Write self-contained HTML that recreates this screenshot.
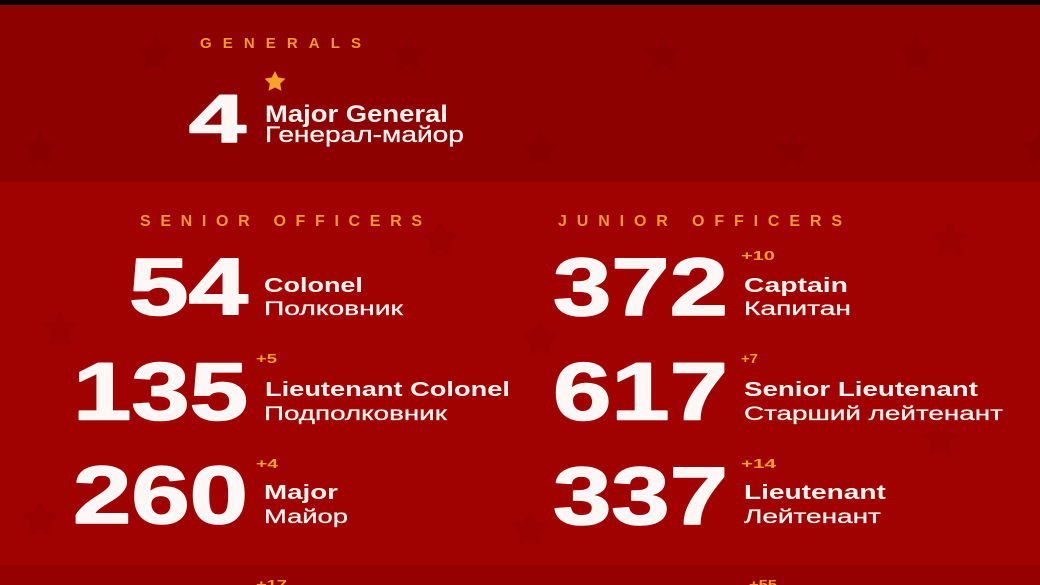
<!DOCTYPE html>
<html>
<head>
<meta charset="utf-8">
<style>
  html, body { margin: 0; padding: 0; background: #8e0101; }
  svg { display: block; }
  .num { font-family: "Liberation Sans", "DejaVu Sans", sans-serif; font-weight: 700; fill: #fdf8f5; stroke: #fdf8f5; stroke-width: 1.6; stroke-linejoin: round; }
  .lb { font-family: "Liberation Sans", "DejaVu Sans", sans-serif; font-weight: 700; fill: #fbf3ee; }
  .lr { font-family: "Liberation Sans", "DejaVu Sans", sans-serif; font-weight: 400; fill: #fbf3ee; stroke: #fbf3ee; stroke-width: 0.3; }
  .or { font-family: "Liberation Sans", "DejaVu Sans", sans-serif; font-weight: 700; fill: #f6a323; }
  .hd { font-family: "Liberation Sans", "DejaVu Sans", sans-serif; font-weight: 700; fill: #f09a2a; }
</style>
</head>
<body>
<svg id="cv" width="1040" height="585" viewBox="0 0 1040 585" xmlns="http://www.w3.org/2000/svg">
  <defs>
    <polygon id="st" points="0,-20 5.9,-8.1 19,-6.2 9.5,3.1 11.8,16.2 0,10 -11.8,16.2 -9.5,3.1 -19,-6.2 -5.9,-8.1"/>
  </defs>
  <!-- backgrounds -->
  <rect x="0" y="0" width="1040" height="585" fill="#a00202"/>
  <rect x="0" y="4" width="1040" height="178" fill="#8e0101"/>
  <rect x="0" y="0" width="1040" height="5" fill="#0a0000"/>
  <rect x="0" y="565" width="1040" height="20" fill="#950000"/>

  <!-- faint watermark stars -->
  <g fill="#000" opacity="0.035">
    <use href="#st" x="663" y="55"/>
    <use href="#st" x="917" y="55"/>
    <use href="#st" x="540" y="150"/>
    <use href="#st" x="793" y="150"/>
    <use href="#st" x="409" y="55"/>
    <use href="#st" x="155" y="55"/>
    <use href="#st" x="40" y="150"/>
    <use href="#st" x="1040" y="150"/>
    <use href="#st" x="60" y="330"/>
    <use href="#st" x="440" y="240"/>
    <use href="#st" x="950" y="240"/>
    <use href="#st" x="540" y="340"/>
    <use href="#st" x="40" y="520"/>
    <use href="#st" x="530" y="530"/>
    <use href="#st" x="940" y="440"/>
  </g>

  <!-- GENERALS -->
  <text class="hd" x="200" y="48" font-size="15" textLength="161" lengthAdjust="spacing">GENERALS</text>
  <polygon fill="#f6a323" transform="translate(275,82) scale(0.55)" points="0,-20 5.9,-8.1 19,-6.2 9.5,3.1 11.8,16.2 0,10 -11.8,16.2 -9.5,3.1 -19,-6.2 -5.9,-8.1"/>
  <text class="num fit" x="189" y="142" font-size="68" textLength="57" lengthAdjust="spacingAndGlyphs">4</text>
  <text class="lb fit" x="265" y="122" font-size="24" textLength="183" lengthAdjust="spacingAndGlyphs">Major General</text>
  <text class="lr fit" x="265" y="142" font-size="22" textLength="199" lengthAdjust="spacingAndGlyphs">Генерал-майор</text>

  <!-- headers -->
  <text class="hd" x="140" y="226" font-size="16" textLength="282" lengthAdjust="spacing">SENIOR OFFICERS</text>
  <text class="hd" x="558" y="226" font-size="16" textLength="284" lengthAdjust="spacing">JUNIOR OFFICERS</text>

  <!-- senior numbers -->
  <text class="num fit" x="129" y="314.5" font-size="81" textLength="119" lengthAdjust="spacingAndGlyphs">54</text>
  <text class="num fit" x="73" y="419.5" font-size="82" textLength="175" lengthAdjust="spacingAndGlyphs">135</text>
  <text class="num fit" x="73" y="523" font-size="82" textLength="175" lengthAdjust="spacingAndGlyphs">260</text>

  <!-- junior numbers -->
  <text class="num fit" x="553" y="315" font-size="82" textLength="175" lengthAdjust="spacingAndGlyphs">372</text>
  <text class="num fit" x="553" y="419.5" font-size="82" textLength="175" lengthAdjust="spacingAndGlyphs">617</text>
  <text class="num fit" x="553" y="524" font-size="82" textLength="175" lengthAdjust="spacingAndGlyphs">337</text>

  <!-- senior labels -->
  <text class="lb fit" x="264" y="292" font-size="20" textLength="99" lengthAdjust="spacingAndGlyphs">Colonel</text>
  <text class="lr fit" x="264" y="315" font-size="19.5" textLength="139" lengthAdjust="spacingAndGlyphs">Полковник</text>
  <text class="or fit" x="256" y="363" font-size="13" textLength="21" lengthAdjust="spacingAndGlyphs">+5</text>
  <text class="lb fit" x="265" y="396" font-size="20" textLength="245" lengthAdjust="spacingAndGlyphs">Lieutenant Colonel</text>
  <text class="lr fit" x="264" y="420" font-size="19.5" textLength="183" lengthAdjust="spacingAndGlyphs">Подполковник</text>
  <text class="or fit" x="256" y="468" font-size="13" textLength="22" lengthAdjust="spacingAndGlyphs">+4</text>
  <text class="lb fit" x="264" y="499" font-size="20" textLength="74" lengthAdjust="spacingAndGlyphs">Major</text>
  <text class="lr fit" x="264" y="523" font-size="19.5" textLength="84" lengthAdjust="spacingAndGlyphs">Майор</text>

  <!-- junior labels -->
  <text class="or fit" x="741" y="260" font-size="13" textLength="34" lengthAdjust="spacingAndGlyphs">+10</text>
  <text class="lb fit" x="744" y="292" font-size="20" textLength="104" lengthAdjust="spacingAndGlyphs">Captain</text>
  <text class="lr fit" x="744" y="315" font-size="19.5" textLength="107" lengthAdjust="spacingAndGlyphs">Капитан</text>
  <text class="or fit" x="741" y="363" font-size="13" textLength="17" lengthAdjust="spacingAndGlyphs">+7</text>
  <text class="lb fit" x="744" y="396" font-size="20" textLength="234" lengthAdjust="spacingAndGlyphs">Senior Lieutenant</text>
  <text class="lr fit" x="744" y="420" font-size="19.5" textLength="259" lengthAdjust="spacingAndGlyphs">Старший лейтенант</text>
  <text class="or fit" x="741" y="468" font-size="13" textLength="35" lengthAdjust="spacingAndGlyphs">+14</text>
  <text class="lb fit" x="744" y="499" font-size="20" textLength="142" lengthAdjust="spacingAndGlyphs">Lieutenant</text>
  <text class="lr fit" x="744" y="523" font-size="19.5" textLength="137" lengthAdjust="spacingAndGlyphs">Лейтенант</text>

  <!-- bottom partial -->
  <text class="or fit" x="256" y="589" font-size="13" textLength="31" lengthAdjust="spacingAndGlyphs">+17</text>
  <text class="or fit" x="749" y="589" font-size="13" textLength="28" lengthAdjust="spacingAndGlyphs">+55</text>
</svg>
<script>
(function(){
  var list = document.querySelectorAll('text.fit');
  for (var i = 0; i < list.length; i++) {
    var t = list[i];
    var target = parseFloat(t.getAttribute('textLength'));
    t.removeAttribute('textLength');
    t.removeAttribute('lengthAdjust');
    var w = t.getComputedTextLength();
    if (!w) continue;
    var x = parseFloat(t.getAttribute('x')), y = parseFloat(t.getAttribute('y'));
    var s = target / w;
    t.setAttribute('transform', 'translate(' + x + ',' + y + ') scale(' + s + ',1) translate(' + (-x) + ',' + (-y) + ')');
  }
})();
</script>
</body>
</html>
